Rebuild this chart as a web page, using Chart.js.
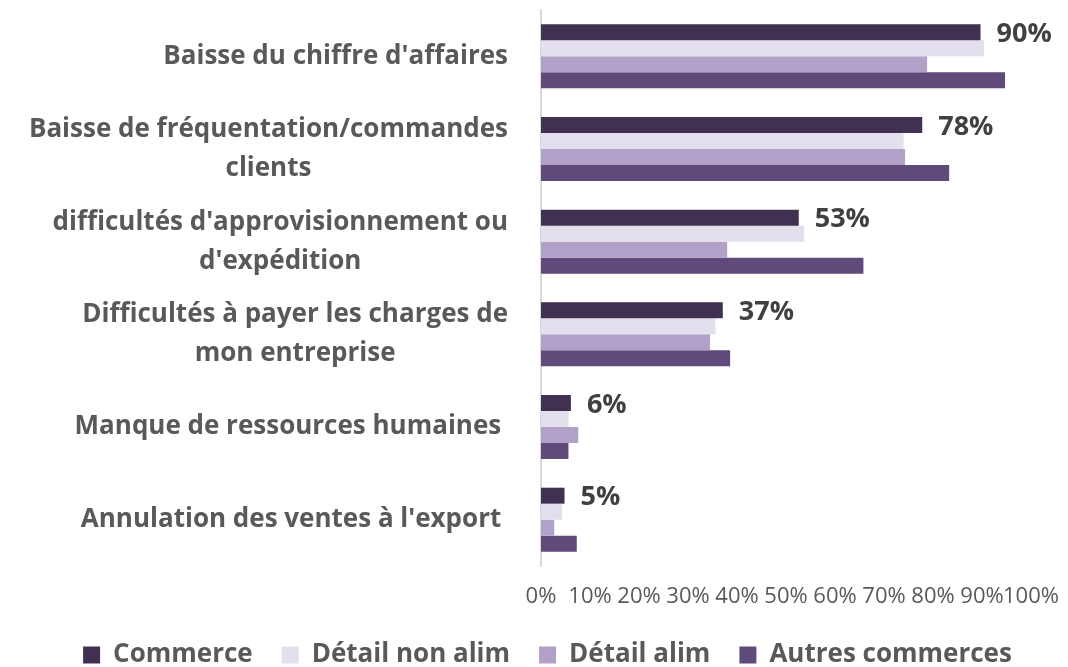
<!DOCTYPE html>
<html>
<head>
<meta charset="utf-8">
<script src="https://cdn.jsdelivr.net/npm/chart.js@4"></script>
<style>
html,body{margin:0;padding:0;background:#fff;}
#wrap{width:1068px;height:667px;}
</style>
</head>
<body>
<div id="wrap"><canvas id="c" width="1068" height="667"></canvas></div>
<script>
const categories = [
  ["Baisse du chiffre d'affaires"],
  ["Baisse de fréquentation/commandes", "clients"],
  ["difficultés d'approvisionnement ou", "d'expédition"],
  ["Difficultés à payer les charges de", "mon entreprise"],
  ["Manque de ressources humaines "],
  ["Annulation des ventes à l'export "]
];
const seriesNames = ["Commerce", "Détail non alim", "Détail alim", "Autres commerces"];
const commerce      = [89.7, 77.8, 52.6, 37.1, 6.1, 4.8];
const detailNonAlim = [90.4, 74.0, 53.7, 35.6, 5.6, 4.3];
const detailAlim    = [78.8, 74.3, 38.0, 34.5, 7.6, 2.7];
const autres        = [94.7, 83.3, 65.8, 38.6, 5.6, 7.3];
const xTicks = [0, 10, 20, 30, 40, 50, 60, 70, 80, 90, 100];

const colors = ["#403152", "#E4DFEC", "#B1A0C7", "#604A7B"];
const textGray = "#595959";

const catLabelPlugin = {
  id: 'catLabels',
  afterDraw(chart) {
    const ctx = chart.ctx;
    const y = chart.scales.y;
    ctx.save();
    ctx.font = "bold 26px 'Open Sans'";
    ctx.fillStyle = textGray;
    ctx.textAlign = 'center';
    ctx.textBaseline = 'middle';
    const right = 508;
    const lh = 39;
    categories.forEach((lines, i) => {
      const cy = y.getPixelForValue(i);
      const w = Math.max(...lines.map(l => ctx.measureText(l).width));
      const cx = right - w / 2;
      const y0 = cy - (lines.length - 1) * lh / 2;
      lines.forEach((l, j) => ctx.fillText(l, cx, y0 + j * lh));
    });
    ctx.restore();
  }
};

const valueLabelPlugin = {
  id: 'valLabels',
  afterDatasetsDraw(chart) {
    const ctx = chart.ctx;
    const meta = chart.getDatasetMeta(0);
    ctx.save();
    ctx.font = "bold 27px 'Open Sans'";
    ctx.fillStyle = "#404040";
    ctx.textAlign = 'left';
    ctx.textBaseline = 'middle';
    meta.data.forEach((bar, i) => {
      ctx.fillText(Math.round(commerce[i]) + '%', bar.x + 16, bar.y + 2);
    });
    ctx.restore();
  }
};

const legendShiftPlugin = {
  id: 'legendShift',
  afterLayout(chart) {
    if (chart.legend) { chart.legend.left += 27; chart.legend.right += 27; }
  }
};

new Chart(document.getElementById('c'), {
  type: 'bar',
  data: {
    labels: categories.map(c => c.join(' ')),
    datasets: [commerce, detailNonAlim, detailAlim, autres].map((d, i) => ({
      label: seriesNames[i],
      data: d,
      backgroundColor: colors[i],
      borderWidth: 0,
      categoryPercentage: 0.69,
      barPercentage: 1.0
    }))
  },
  options: {
    indexAxis: 'y',
    responsive: false,
    animation: false,
    layout: { padding: { left: 10, right: 37, top: 10, bottom: -11 } },
    scales: {
      x: {
        min: 0, max: 100,
        grid: { display: false, drawTicks: false },
        border: { display: false },
        afterBuildTicks(s) { s.ticks = xTicks.map(v => ({ value: v })); },
        afterFit(s) { s.height = 47; s.paddingLeft = 0; s.paddingRight = 0; },
        ticks: {
          autoSkip: false, maxRotation: 0, padding: 18,
          color: textGray,
          font: { family: "'Open Sans'", size: 22 },
          callback: v => v + '%'
        }
      },
      y: {
        grid: { display: false, drawTicks: false },
        border: { display: true, color: '#D9D9D9', width: 2 },
        ticks: { display: false },
        afterFit(s) { s.width = 531; }
      }
    },
    plugins: {
      legend: {
        position: 'bottom',
        labels: {
          boxWidth: 17, boxHeight: 17, padding: 29,
          color: textGray,
          font: { family: "'Open Sans'", size: 26, weight: 'bold', lineHeight: 1 }
        }
      },
      tooltip: { enabled: false }
    }
  },
  plugins: [catLabelPlugin, valueLabelPlugin, legendShiftPlugin]
});
</script>
</body>
</html>
